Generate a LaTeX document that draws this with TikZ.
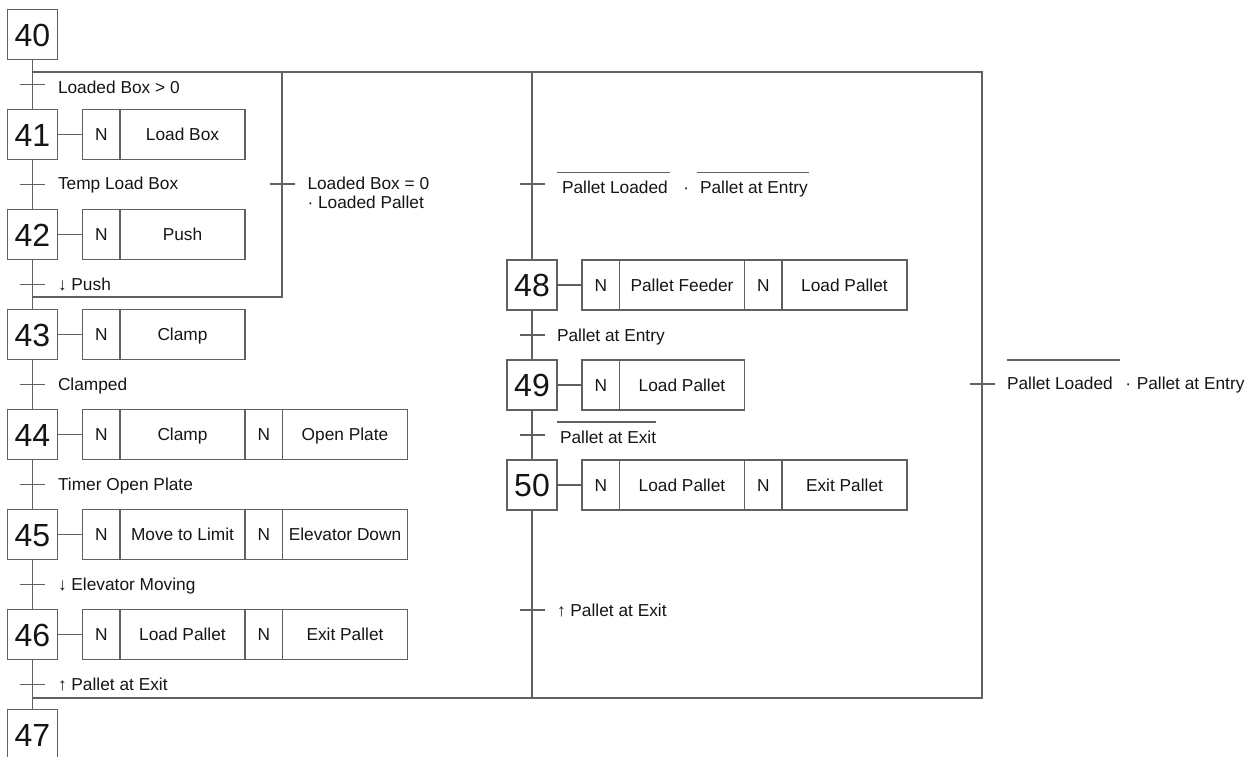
\documentclass[tikz,border=0pt]{standalone}
\usepackage{fontspec}
\setmainfont{Liberation Sans}
\usepackage[HTML]{xcolor}
\usepackage{tikz}
\usetikzlibrary{positioning, calc}

\definecolor{wiregray}{HTML}{606060}
\definecolor{inkgray}{HTML}{151515}

\tikzset{
  wire/.style={draw=wiregray, line width=1.2pt},
  stepbox/.style={wire, minimum size=50pt, inner sep=0pt, outer sep=0pt,
    text height=23pt, text depth=0pt, text=inkgray, font=\fontsize{32}{36}\selectfont},
  qbox/.style={wire, minimum width=37.5pt, minimum height=50pt, inner sep=0pt, outer sep=0pt,
    text height=12.5pt, text depth=0pt, text=inkgray, font=\fontsize{17.3}{20}\selectfont},
  actbox/.style={qbox, minimum width=125pt},
  lbl/.style={inner sep=0pt, outer sep=0pt, anchor=west, text height=12.5pt, text depth=0pt,
    text=inkgray, font=\fontsize{17.3}{20}\selectfont},
}

\begin{document}
\begin{tikzpicture}[x=1pt, y=-1pt, node distance=50pt]
\useasboundingbox (0,0) rectangle (1251,756);
\clip (0,0) rectangle (1251,756);

% left sequence
\node[stepbox] (s40) at (32.5,34.5) {40};
\node[stepbox, below=of s40] (s41) {41};
\node[stepbox, below=of s41] (s42) {42};
\node[stepbox, below=of s42] (s43) {43};
\node[stepbox, below=of s43] (s44) {44};
\node[stepbox, below=of s44] (s45) {45};
\node[stepbox, below=of s45] (s46) {46};
\node[stepbox, below=of s46] (s47) {47};

% middle sequence
\node[stepbox] (s48) at (532,285) {48};
\node[stepbox, below=of s48] (s49) {49};
\node[stepbox, below=of s49] (s50) {50};

% actions
\node[qbox, right=25pt of s41] (q41) {N};
\node[actbox, right=0pt of q41] (a41) {Load Box};
\node[qbox, right=25pt of s42] (q42) {N};
\node[actbox, right=0pt of q42] (a42) {Push};
\node[qbox, right=25pt of s43] (q43) {N};
\node[actbox, right=0pt of q43] (a43) {Clamp};
\node[qbox, right=25pt of s44] (q44) {N};
\node[actbox, right=0pt of q44] (a44) {Clamp};
\node[qbox, right=0pt of a44] (q44b) {N};
\node[actbox, right=0pt of q44b] (a44b) {Open Plate};
\node[qbox, right=25pt of s45] (q45) {N};
\node[actbox, right=0pt of q45] (a45) {Move to Limit};
\node[qbox, right=0pt of a45] (q45b) {N};
\node[actbox, right=0pt of q45b] (a45b) {Elevator Down};
\node[qbox, right=25pt of s46] (q46) {N};
\node[actbox, right=0pt of q46] (a46) {Load Pallet};
\node[qbox, right=0pt of a46] (q46b) {N};
\node[actbox, right=0pt of q46b] (a46b) {Exit Pallet};
\node[qbox, right=25pt of s48] (q48) {N};
\node[actbox, right=0pt of q48] (a48) {Pallet Feeder};
\node[qbox, right=0pt of a48] (q48b) {N};
\node[actbox, right=0pt of q48b] (a48b) {Load Pallet};
\node[qbox, right=25pt of s49] (q49) {N};
\node[actbox, right=0pt of q49] (a49) {Load Pallet};
\node[qbox, right=25pt of s50] (q50) {N};
\node[actbox, right=0pt of q50] (a50) {Load Pallet};
\node[qbox, right=0pt of a50] (q50b) {N};
\node[actbox, right=0pt of q50b] (a50b) {Exit Pallet};

\foreach \s in {41,42,43,44,45,46,48,49,50}
  \draw[wire] (s\s) -- (q\s);

% branch points
\coordinate (divM) at (532,72);
\coordinate (divR) at (982,72);
\coordinate (divL) at (s40.south |- divM);
\coordinate (loopT) at (282,72);
\coordinate (loopB) at (282,297);
\coordinate (loopL) at (s40.south |- loopB);
\coordinate (convM) at (532,698);
\coordinate (convR) at (982,698);
\coordinate (convL) at (s40.south |- convM);

% links
\draw[wire] (s40) -- (s41);
\draw[wire] (s41) -- (s42);
\draw[wire] (s42) -- (s43);
\draw[wire] (s43) -- (s44);
\draw[wire] (s44) -- (s45);
\draw[wire] (s45) -- (s46);
\draw[wire] (s46) -- (s47);
\draw[wire] (divM) -- (s48);
\draw[wire] (s48) -- (s49);
\draw[wire] (s49) -- (s50);
\draw[wire] (s50) -- (convM);
\draw[wire] (divL) -- (divR) -- (convR) -- (convL);
\draw[wire] (loopT) -- (loopB) -- (loopL);

% transitions
\coordinate (t40) at ($(s40.south)!.5!(s41.north)$);
\coordinate (t41) at ($(s41.south)!.5!(s42.north)$);
\coordinate (t42) at ($(s42.south)!.5!(s43.north)$);
\coordinate (t43) at ($(s43.south)!.5!(s44.north)$);
\coordinate (t44) at ($(s44.south)!.5!(s45.north)$);
\coordinate (t45) at ($(s45.south)!.5!(s46.north)$);
\coordinate (t46) at ($(s46.south)!.5!(s47.north)$);
\coordinate (tloop) at (282,184);
\coordinate (tin) at (532,184);
\coordinate (t48) at ($(s48.south)!.5!(s49.north)$);
\coordinate (t49) at ($(s49.south)!.5!(s50.north)$);
\coordinate (t50) at (532,610);
\coordinate (tR) at (982,384);
\foreach \t in {t40,t41,t42,t43,t44,t45,t46,tloop,tin,t48,t49,t50,tR}
  \draw[wire] ([xshift=-12.5pt]\t) -- ([xshift=12.5pt]\t);

\node[lbl, right=25.5pt of t40, yshift=-3pt] (c40) {Loaded Box > 0};
\node[lbl, right=25.5pt of t41, yshift=1pt] (c41) {Temp Load Box};
\node[lbl, right=25.5pt of t42] (c42) {↓ Push};
\node[lbl, right=25.5pt of t43] (c43) {Clamped};
\node[lbl, right=25.5pt of t44] (c44) {Timer Open Plate};
\node[lbl, right=25.5pt of t45] (c45) {↓ Elevator Moving};
\node[lbl, right=25.5pt of t46] (c46) {↑ Pallet at Exit};
\node[lbl, right=25.5pt of tloop, yshift=1pt] (cl1) {Loaded Box = 0};
\node[lbl] (cl2) at ([yshift=-19.5pt]cl1.west) {· Loaded Pallet};

% middle branch conditions
\node[lbl, right=30pt of tin, yshift=-3.5pt] (cin1) {Pallet Loaded};
\node[lbl, right=15.5pt of cin1] (cin2) {·};
\node[lbl, right=11pt of cin2] (cin3) {Pallet at Entry};
\draw[wire] ([xshift=-5pt, yshift=8.75pt]cin1.north west) -- ([xshift=2pt, yshift=8.75pt]cin1.north east);
\draw[wire] ([xshift=-3pt, yshift=8.75pt]cin3.north west) -- ([xshift=1pt, yshift=8.75pt]cin3.north east);
\node[lbl, right=25pt of t48] (c48) {Pallet at Entry};
\node[lbl, right=28pt of t49, yshift=-2pt] (c49) {Pallet at Exit};
\draw[wire] ([xshift=-3pt, yshift=8.75pt]c49.north west) -- ([yshift=8.75pt]c49.north east);
\node[lbl, right=25pt of t50] (c50) {↑ Pallet at Exit};

% right branch condition
\node[lbl, right=25pt of tR, yshift=1pt] (cR1) {Pallet Loaded};
\node[lbl, right=12.6pt of cR1] (cR2) {·};
\node[lbl, right=5.6pt of cR2] (cR3) {Pallet at Entry};
\draw[wire] ([yshift=16.75pt]cR1.north west) -- ([xshift=7pt, yshift=16.75pt]cR1.north east);
\end{tikzpicture}
\end{document}
